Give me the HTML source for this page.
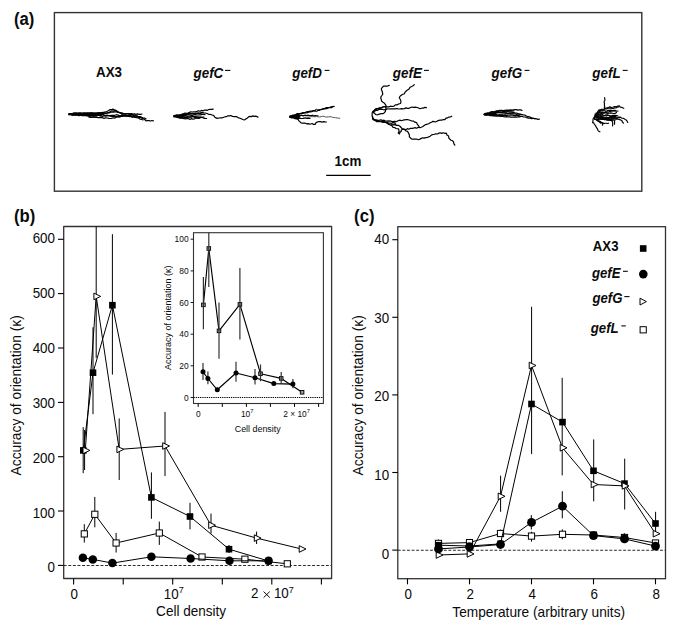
<!DOCTYPE html><html><head><meta charset="utf-8"><style>html,body{margin:0;padding:0;background:#fff;width:685px;height:633px;overflow:hidden}svg{display:block}text{font-family:"Liberation Sans",sans-serif;fill:#0a0a0a}</style></head><body>
<svg width="685" height="633" viewBox="0 0 685 633">
<rect width="685" height="633" fill="#fff"/>
<text transform="translate(13.90,24.80) scale(1,1.06)" font-size="16.7" text-anchor="start" font-weight="bold" font-style="normal" >(a)</text>
<rect x="54.4" y="12.6" width="587.4" height="178.6" fill="none" stroke="#333" stroke-width="1.4"/>
<text transform="translate(96.00,77.20) scale(1,1.06)" font-size="13.4" text-anchor="start" font-weight="bold" font-style="normal" >AX3</text>
<text transform="translate(193.50,77.60) scale(1,1.06)" font-size="13.4" text-anchor="start" font-weight="bold" font-style="italic" >gefC</text>
<rect x="225.00" y="69.85" width="5.40" height="1.1" fill="#0a0a0a"/>
<text transform="translate(292.20,77.60) scale(1,1.06)" font-size="13.4" text-anchor="start" font-weight="bold" font-style="italic" >gefD</text>
<rect x="324.60" y="69.85" width="4.90" height="1.1" fill="#0a0a0a"/>
<text transform="translate(392.80,77.60) scale(1,1.06)" font-size="13.4" text-anchor="start" font-weight="bold" font-style="italic" >gefE</text>
<rect x="424.00" y="69.85" width="4.90" height="1.1" fill="#0a0a0a"/>
<text transform="translate(491.60,77.60) scale(1,1.06)" font-size="13.4" text-anchor="start" font-weight="bold" font-style="italic" >gefG</text>
<rect x="524.60" y="69.85" width="4.90" height="1.1" fill="#0a0a0a"/>
<text transform="translate(592.30,77.60) scale(1,1.06)" font-size="13.4" text-anchor="start" font-weight="bold" font-style="italic" >gefL</text>
<rect x="622.70" y="69.85" width="4.90" height="1.1" fill="#0a0a0a"/>
<text transform="translate(334.60,166.10) scale(1,1.06)" font-size="13.4" text-anchor="start" font-weight="bold" font-style="normal" >1cm</text>
<line x1="326.2" y1="175.3" x2="370.7" y2="175.3" stroke="#000" stroke-width="1.3" />
<polygon points="68.4,113.9 74,112.4 100,112.3 107,113.0 101,116.0 88,116.0 74,115.6" fill="#000"/>
<polyline points="69.0,114.0 70.4,113.9 71.8,114.0 73.2,114.3 74.6,113.9 76.0,113.9 77.5,113.9 78.9,113.5 80.3,113.8 81.7,113.9 83.1,114.0 84.5,113.3 85.9,113.5 87.3,113.3 88.7,113.9 90.1,113.8 91.5,113.2 93.0,114.0 94.4,113.9 95.8,113.6 97.2,113.6 98.6,113.1 99.9,113.0 101.4,113.1 102.7,112.4 104.1,112.2 105.5,111.9 106.7,111.5 108.5,110.7 110.0,109.5 111.6,109.7 113.0,109.1 114.4,109.9 116.0,110.4 117.3,111.4 118.7,112.1 120.0,112.8 121.3,113.6 122.7,113.8 124.2,113.9 125.6,114.0 127.0,113.8 128.5,113.8 130.0,113.8 131.5,113.6 133.0,114.2 134.5,113.9 136.0,114.3 137.5,113.9 139.0,114.4 140.5,114.3 142.0,114.0" fill="none" stroke="#000" stroke-width="1.2" stroke-linejoin="round" stroke-linecap="round" />
<polyline points="69.0,114.5 70.4,114.0 71.8,114.2 73.2,114.8 74.6,114.4 76.1,114.8 77.5,114.3 78.9,114.0 80.3,114.4 81.7,114.5 83.1,114.1 84.5,113.9 85.9,114.1 87.3,114.6 88.7,114.4 90.1,113.8 91.5,113.9 92.9,113.8 94.4,113.7 95.8,114.3 97.2,113.8 98.6,114.1 100.0,114.0 101.6,113.5 103.2,113.8 104.8,113.1 106.4,113.3 107.8,112.7 109.3,112.3 110.6,111.4 112.0,110.8 113.6,111.1 114.9,110.6 116.6,111.0 117.8,112.3 119.6,112.5 121.0,113.4 122.4,114.5 124.0,115.1 125.6,114.8 127.1,115.7 128.7,115.2 130.3,115.4 131.8,116.0 133.4,115.7 135.1,115.8 136.5,116.0 137.9,116.4 139.2,117.3 140.7,117.4 142.0,118.1 143.4,118.7 144.7,119.6 146.0,120.9 147.5,120.5 149.0,120.7 150.4,121.0 151.9,120.5 153.4,120.8" fill="none" stroke="#000" stroke-width="1.2" stroke-linejoin="round" stroke-linecap="round" />
<polyline points="69.0,114.8 70.5,114.5 71.9,115.3 73.4,115.2 74.8,114.8 76.3,114.8 77.7,115.3 79.2,115.6 80.6,115.0 82.1,115.7 83.5,115.7 85.0,115.5 86.7,115.9 88.4,116.1 90.0,116.6 91.6,117.5 93.2,116.9 94.8,117.4 96.4,117.0 98.0,117.6 99.5,117.6 101.0,117.6 102.5,117.7 104.0,118.4 105.6,117.8 107.2,118.0 108.8,118.3 110.4,118.5 112.0,118.3 113.4,117.8 114.9,118.1 116.2,117.2 117.5,116.8 119.0,116.8 120.5,116.7 121.9,116.1 123.5,116.0 125.0,115.9 126.5,116.2 128.0,115.9 129.5,116.2 131.0,116.8 132.5,116.9 134.0,116.7 135.5,116.9 137.0,116.9 138.5,116.6 140.0,117.0" fill="none" stroke="#000" stroke-width="1.2" stroke-linejoin="round" stroke-linecap="round" />
<polyline points="69.0,114.0 70.5,113.6 71.9,113.7 73.3,114.5 74.8,114.4 76.2,114.7 77.7,113.9 79.1,114.5 80.6,114.4 82.0,114.7 83.5,114.4 84.9,115.1 86.3,114.3 87.8,114.8 89.2,115.0 90.7,115.2 92.1,115.1 93.5,115.1 95.0,115.3 96.6,115.6 98.2,115.3 99.8,115.8 101.4,116.2 103.0,116.3 104.4,115.8 105.8,116.1 107.2,116.0 108.6,115.7 110.0,115.6 111.6,115.3 113.2,115.4 114.8,115.3 116.4,114.7 118.0,115.1 119.4,115.6 120.8,115.6 122.3,115.6 123.7,115.5 125.1,115.9 126.6,115.9 128.0,115.9 129.4,116.6 130.9,116.2 132.2,117.1 133.8,116.7 135.1,117.5 136.6,117.7 138.1,117.8 139.6,118.8 141.3,119.3 143.0,120.0" fill="none" stroke="#000" stroke-width="1.2" stroke-linejoin="round" stroke-linecap="round" />
<polyline points="69.0,113.5 70.4,113.6 71.9,113.8 73.3,113.2 74.8,113.0 76.2,113.2 77.6,113.5 79.1,113.1 80.5,113.0 82.0,113.7 83.4,113.4 84.8,113.2 86.3,113.6 87.7,113.1 89.2,113.4 90.6,112.9 92.0,113.1 93.5,113.4 94.9,113.5 96.4,113.5 97.8,113.0 99.2,113.2 100.7,112.9 102.1,112.7 103.6,113.0 105.0,113.3 106.5,113.2 107.9,112.9 109.3,113.0 110.7,112.2 112.1,112.0 113.6,112.1 115.0,111.8 116.4,111.9 117.8,112.3 119.2,112.7 120.6,112.8 122.0,112.8 123.4,113.5 124.8,113.9 126.3,113.6 127.8,113.5 129.2,113.7 130.5,114.6 132.1,114.1 133.5,115.2 135.2,115.6 136.9,115.8 138.3,116.8 140.1,116.6 141.6,117.2 143.0,118.0 144.6,118.1 146.0,119.0" fill="none" stroke="#000" stroke-width="1.2" stroke-linejoin="round" stroke-linecap="round" />
<polyline points="89.0,117.1 90.6,117.4 92.2,116.9 93.8,116.9 95.4,116.9 97.0,117.3" fill="none" stroke="#000" stroke-width="1.2" stroke-linejoin="round" stroke-linecap="round" />
<polyline points="69.0,114.2 70.4,114.3 71.8,114.2 73.2,114.3 74.6,114.4 76.0,114.5 77.5,114.7 78.9,114.4 80.3,114.0 81.7,114.3 83.1,114.0 84.5,113.9 85.9,114.3 87.3,114.5 88.7,114.0 90.1,114.1 91.5,114.2 93.0,114.5 94.4,114.4 95.8,114.5 97.2,114.6 98.6,114.3 100.0,114.7 101.5,115.0 103.0,114.4 104.4,115.4 106.0,115.4 107.6,115.2 109.0,115.8 110.5,116.2 112.0,116.8 113.4,116.3 114.9,116.5 116.3,116.7 117.7,116.7 119.1,116.8 120.6,116.4 122.0,116.5 123.6,115.9 125.2,116.0 126.8,115.8 128.4,115.4 130.0,115.0" fill="none" stroke="#000" stroke-width="1.2" stroke-linejoin="round" stroke-linecap="round" />
<polygon points="174,115.8 179,114.8 186,114.8 183,117.2 176,117" fill="#000"/>
<polyline points="174.0,116.0 175.4,115.8 176.7,115.0 178.2,115.3 179.6,115.0 181.0,114.7 182.3,113.9 183.7,113.8 185.0,113.0 186.6,113.3 188.0,113.1 189.5,112.4 190.9,111.9 192.5,112.0 194.0,111.9 195.5,111.9 197.0,111.4 198.4,110.8 200.0,111.3 201.4,110.4 203.0,110.9 204.4,110.1 205.8,110.1 207.4,110.3 208.8,109.5 210.2,109.3 211.7,109.4 213.2,109.2" fill="none" stroke="#000" stroke-width="1.2" stroke-linejoin="round" stroke-linecap="round" />
<polyline points="174.0,116.3 175.5,116.3 177.0,116.1 178.4,115.7 179.9,115.7 181.3,115.1 182.8,115.2 184.1,114.2 185.6,114.1 187.1,114.1 188.5,113.7 190.0,113.8 191.4,113.6 192.8,113.4 194.2,113.6 195.6,113.3 197.0,113.0 198.4,112.9 199.8,113.3 201.2,113.2 202.6,112.5 204.0,113.0 205.2,113.0 207.2,113.5 209.0,114.5 210.6,114.4 212.1,115.0 213.6,115.3 214.4,116.7 215.4,117.6 217.2,118.4 219.0,118.0 220.8,117.9 222.4,117.8 223.8,117.2 225.3,116.7 226.7,116.6 228.0,115.8 229.4,115.9 230.8,115.5 232.5,116.4 234.3,116.7 236.3,116.5 238.0,117.6 239.9,118.2 241.3,118.8 242.7,119.5 244.4,119.9 245.7,119.0 247.0,118.4 248.3,117.1 249.8,116.3 251.3,116.6 252.8,115.9 254.2,116.4 256.2,116.2 257.9,117.1" fill="none" stroke="#000" stroke-width="1.2" stroke-linejoin="round" stroke-linecap="round" />
<polyline points="174.0,117.0 175.6,116.8 177.2,117.0 178.7,117.5 180.3,117.3 181.9,117.4 183.4,117.8 185.0,117.4 186.5,117.8 187.8,117.1 189.3,117.2 190.7,116.8 192.1,116.5 193.6,116.6 195.0,116.3 196.5,116.6 197.9,116.8 199.3,117.2 200.9,117.1 202.3,117.5 203.7,118.1 205.1,118.4 206.6,118.5" fill="none" stroke="#000" stroke-width="1.2" stroke-linejoin="round" stroke-linecap="round" />
<polyline points="174.0,116.0 175.5,116.5 176.9,117.3 178.5,117.6 180.0,118.3 181.5,117.9 182.8,118.5 184.3,118.7 185.7,118.9 187.2,118.5 188.6,118.7 190.0,119.4 191.4,118.6 192.9,119.2 194.3,119.0 195.7,118.2 197.1,118.2 198.6,118.5 200.0,118.2" fill="none" stroke="#000" stroke-width="1.2" stroke-linejoin="round" stroke-linecap="round" />
<polyline points="174.0,115.6 175.4,115.3 176.9,115.1 178.4,115.7 179.8,115.3 181.3,115.6 182.7,114.9 184.2,115.1 185.6,115.3 187.1,114.7 188.5,114.8 190.0,115.2 191.5,115.3 193.0,115.3 194.5,114.5 196.0,114.8 197.5,115.0 199.0,114.8 200.5,114.9 202.0,114.4 203.5,114.3 205.0,114.6" fill="none" stroke="#000" stroke-width="1.2" stroke-linejoin="round" stroke-linecap="round" />
<polyline points="175.0,116.4 176.4,116.0 177.9,116.0 179.3,116.4 180.8,116.4 182.2,116.5 183.7,116.1 185.1,116.1 186.6,116.1 188.0,116.7 189.4,117.0 190.8,117.1 192.3,116.6 193.8,116.7 195.1,117.7 196.6,117.4 198.0,117.8 199.5,117.3 201.0,117.3 202.5,117.2 204.0,117.0" fill="none" stroke="#000" stroke-width="1.2" stroke-linejoin="round" stroke-linecap="round" />
<polyline points="174.0,116.0 175.5,115.8 177.0,115.7 178.4,115.0 180.0,115.5 181.5,115.4 183.0,114.7 184.5,114.7 186.0,114.8 187.4,114.4 188.8,114.0 190.3,113.9 191.7,114.0 193.1,113.5 194.6,114.1 196.0,113.9 197.4,113.6 198.8,113.5 200.2,113.1 201.6,112.7 203.0,112.6" fill="none" stroke="#000" stroke-width="1.2" stroke-linejoin="round" stroke-linecap="round" />
<polygon points="289.3,116.2 294,115.2 301,115.0 299,118.4 293,117.8" fill="#000"/>
<polyline points="289.7,116.3 291.2,116.0 292.6,115.6 294.2,115.7 295.7,115.1 297.0,114.3 298.6,114.5 300.0,114.0 301.5,113.7 302.9,113.4 304.3,112.8 305.8,112.9 307.2,112.6 308.6,112.1 310.0,111.8 311.8,111.6 313.5,111.0 315.2,110.8" fill="none" stroke="#000" stroke-width="1.2" stroke-linejoin="round" stroke-linecap="round" />
<polyline points="290.0,116.1 291.5,115.9 292.8,115.0 294.2,114.8 295.7,114.5 297.0,113.7 298.5,113.7 300.0,113.5 301.5,113.2 302.9,112.5 304.6,112.7 306.0,112.1 307.5,111.5 309.0,111.4 310.5,111.2 312.0,111.0 313.5,110.7 315.0,110.6" fill="none" stroke="#000" stroke-width="1.2" stroke-linejoin="round" stroke-linecap="round" />
<polyline points="317.5,110.4 319.1,110.4 320.5,109.7 322.0,109.3 323.6,108.9 325.1,108.7 326.4,107.5 328.1,107.7 329.6,107.5 331.1,106.8 332.6,106.5 334.2,106.3" fill="none" stroke="#000" stroke-width="1.2" stroke-linejoin="round" stroke-linecap="round" />
<polyline points="317.2,110.6 318.7,109.8 320.3,109.5 321.9,109.3 323.4,108.6 325.0,108.4 326.7,108.6 328.2,107.9 329.8,107.5 331.5,107.6 333.0,106.8" fill="none" stroke="#000" stroke-width="1.2" stroke-linejoin="round" stroke-linecap="round" />
<polyline points="289.7,116.5 291.2,116.4 292.7,116.7 294.1,116.2 295.6,116.3 297.0,115.5 298.5,115.8 300.0,115.8 301.6,115.2 303.2,115.9 304.8,115.2 306.4,115.5 308.0,115.2 309.4,115.5 310.9,115.7 312.3,115.2 313.7,116.1 315.1,115.6 316.6,115.8 318.0,115.8" fill="none" stroke="#000" stroke-width="1.2" stroke-linejoin="round" stroke-linecap="round" />
<polyline points="289.7,116.9 291.0,117.4 292.5,117.6 293.9,118.0 295.1,118.7 296.5,119.0 298.1,119.3 298.8,120.8 300.1,121.9 301.0,122.9 302.4,123.1 303.8,123.0 305.2,123.2 306.6,123.8 308.0,123.6 309.4,124.1 310.8,124.0 312.2,123.5 313.6,124.4 315.3,124.3 316.1,122.5 317.8,121.9 319.3,121.5 320.7,121.6 322.1,122.2 323.6,121.6 325.0,121.9 326.5,122.0" fill="none" stroke="#000" stroke-width="1.2" stroke-linejoin="round" stroke-linecap="round" />
<polyline points="289.7,117.2 291.1,117.8 292.6,117.7 294.1,117.7 295.5,118.3 297.0,118.3 298.5,118.3 300.0,118.1 301.4,118.5 302.9,118.4 304.3,118.1 305.7,118.0 307.1,118.4 308.6,118.1 310.0,118.4" fill="none" stroke="#000" stroke-width="1.2" stroke-linejoin="round" stroke-linecap="round" />
<polyline points="305.0,117.2 306.4,117.1 307.9,117.2 309.3,116.9 310.8,116.6 312.2,116.8 313.7,116.6 315.1,116.8 316.6,116.5 318.0,116.8 319.5,116.9 321.0,116.7 322.5,116.3 324.0,116.3 325.5,117.0 327.0,117.0 328.5,116.9 330.0,116.7 331.4,116.8 332.8,117.4 334.2,117.5 335.6,117.7 337.0,117.9 338.4,118.2 339.8,118.2" fill="none" stroke="#555" stroke-width="1.0" stroke-linejoin="round" stroke-linecap="round" />
<circle cx="316.3" cy="110.4" r="1.2" fill="none" stroke="#000" stroke-width="0.9"/>
<polyline points="389.3,85.3 388.0,85.9 386.6,86.1 383.5,86.1 381.5,88.4 381.4,89.9 382.2,91.3 382.8,94.2 381.9,95.5 381.0,96.7 380.8,98.2 381.3,99.5 381.6,101.1 382.6,102.0 384.2,103.0 385.3,104.4 386.1,105.8 385.9,107.3 385.9,108.9 385.5,111.1 384.6,112.5 383.2,113.6 381.2,113.7 379.4,114.1 377.5,114.8 375.4,114.5 374.6,113.1 373.4,112.6 373.9,111.0 375.5,109.3 377.5,108.8 379.3,107.8 381.4,107.9 383.2,107.0" fill="none" stroke="#000" stroke-width="1.2" stroke-linejoin="round" stroke-linecap="round" />
<polyline points="414.3,84.6 413.1,85.7 411.7,86.5 410.2,87.2 409.1,88.9 407.5,89.9 406.3,91.0 405.1,92.1 404.4,93.8 402.3,94.5 400.3,96.0 399.3,97.4 399.9,98.8 400.7,100.3 400.9,102.0 400.6,103.5 398.7,103.9 397.0,104.9 395.3,104.9 394.0,106.1 392.3,106.5 390.5,106.2 388.8,106.9 387.0,106.8 385.1,106.6 383.1,106.8 381.4,107.8 379.5,108.5 378.0,108.6 376.4,108.6 375.1,109.3 374.1,110.8 372.4,111.9 372.1,114.2 372.2,116.5 373.0,119.1 374.6,119.8" fill="none" stroke="#000" stroke-width="1.2" stroke-linejoin="round" stroke-linecap="round" />
<polyline points="373.1,111.2 374.7,111.2 376.0,110.3 377.6,110.3 379.0,109.4 380.6,109.3 382.2,109.3 383.8,109.8 385.4,109.7 387.0,108.9 388.7,109.0 390.3,108.9 392.0,108.9 393.6,108.8 395.3,108.8 396.8,108.5 398.3,108.8 399.9,109.0 401.4,108.7 402.9,108.9 404.4,108.6 405.9,107.9 407.5,108.4 409.1,108.3 410.5,107.5 412.0,107.0 413.6,107.3 416.0,107.2 418.0,107.8 420.0,108.7 421.6,108.2 423.2,108.2 424.8,107.3 426.4,107.6" fill="none" stroke="#000" stroke-width="1.2" stroke-linejoin="round" stroke-linecap="round" />
<polyline points="372.6,116.4 372.6,118.4 373.5,119.7 374.7,120.1 376.3,119.9 377.9,120.4 379.3,120.3 381.0,119.7 382.4,120.5 384.0,120.2 385.4,121.0 387.0,121.2 388.9,120.9 390.8,121.1 392.6,121.7 394.3,121.4 396.2,121.7 398.0,120.7 399.9,120.1 401.4,120.7 402.9,120.2 404.4,119.9 406.3,119.7 408.1,119.7 410.0,120.3 411.8,121.0 413.6,121.1 414.9,122.2 416.5,122.6 417.2,124.1 418.2,125.3 419.8,127.8 421.3,127.2 422.9,126.5 424.2,125.5 425.7,124.6 427.2,124.2 428.7,123.7 430.0,122.8 431.5,122.2 432.9,121.3 434.5,121.7 436.0,121.8 437.4,120.9 438.8,120.4 440.3,120.2 441.8,120.2 443.2,119.5 444.9,119.7 446.0,118.2 447.5,117.9 448.8,117.1 450.4,117.0 451.7,116.2" fill="none" stroke="#000" stroke-width="1.2" stroke-linejoin="round" stroke-linecap="round" />
<polyline points="372.6,117.4 373.2,119.7 374.9,119.9 376.0,120.5 377.4,121.1 378.8,121.3 380.2,121.7 381.9,120.9 383.2,121.5 384.5,122.0 385.8,122.5 387.1,123.0 388.2,124.1 389.5,124.7 391.0,125.0 392.2,126.1 393.1,127.3 394.6,127.5 396.0,128.5 398.6,128.9 399.1,131.3 398.2,133.0 399.5,133.9 399.8,132.5 401.0,131.5 401.5,129.8 403.8,128.9 404.9,129.8 406.0,131.0 407.5,131.3 408.5,133.1 409.4,134.8 409.3,136.6 410.2,137.8 411.3,138.8 412.8,139.1 414.3,139.2 416.4,139.0 418.5,139.7 419.9,139.1 421.3,138.4 422.7,137.8 424.2,138.1 425.6,137.7 427.3,137.5 428.7,136.9 430.1,136.2 431.4,135.1 432.9,134.5 434.4,134.3 435.8,133.8 437.5,134.0 438.8,133.2 440.3,132.8 441.7,133.4 443.2,132.8 444.6,133.3 446.4,133.2 446.9,135.0 448.6,136.0 448.8,138.0 449.9,139.2 451.0,140.2 452.7,140.8 453.6,142.1 453.9,143.8 454.9,145.1" fill="none" stroke="#000" stroke-width="1.2" stroke-linejoin="round" stroke-linecap="round" />
<polyline points="390.8,125.2 392.1,124.6 393.6,124.8 395.0,124.6 396.6,125.4 398.4,125.3 400.2,126.5 401.5,128.0 402.8,129.1 404.4,129.3 406.0,129.7 407.4,128.6 409.0,129.2 410.5,128.3 412.0,128.4 413.6,128.2 415.0,127.6 416.6,128.2 418.1,127.4 419.6,127.5" fill="none" stroke="#000" stroke-width="1.2" stroke-linejoin="round" stroke-linecap="round" />
<polyline points="381.0,121.6 382.5,121.7 384.1,121.8 385.5,122.4 387.0,122.9 388.5,123.5 390.0,123.0 391.6,123.3 393.0,122.6 394.7,122.8 395.7,124.4" fill="none" stroke="#000" stroke-width="1.2" stroke-linejoin="round" stroke-linecap="round" />
<polyline points="373.0,118.6 374.4,119.4 375.4,120.8 376.9,121.6 378.5,121.6 380.1,121.2 381.5,121.8 383.0,122.4 384.7,122.0 386.3,122.4 388.0,122.4" fill="none" stroke="#000" stroke-width="1.2" stroke-linejoin="round" stroke-linecap="round" />
<polygon points="484,114.3 490,113.0 497,112.8 494,115.6 489,115.3" fill="#000"/>
<polyline points="484.2,114.2 485.8,113.8 487.2,113.1 489.0,113.3 490.5,112.8 492.0,112.0 493.6,112.0 495.2,111.6 496.8,111.4 498.4,111.3 500.0,110.9 501.6,110.7 503.2,110.6 504.8,110.6 506.4,110.2 508.0,110.0 509.4,110.2 510.8,109.9 512.2,110.1 513.6,109.8 515.0,109.7 516.4,109.6 517.8,110.1 519.2,109.8 520.6,109.9 522.0,110.3" fill="none" stroke="#000" stroke-width="1.2" stroke-linejoin="round" stroke-linecap="round" />
<polyline points="484.2,114.0 485.7,113.3 487.3,113.2 488.9,112.8 490.4,112.1 492.0,111.7 493.6,111.8 495.2,111.4 496.8,110.8 498.4,110.7 500.0,110.4 501.6,110.4 503.2,110.5 504.8,110.3 506.4,110.9 508.0,110.6 509.5,110.7 511.0,110.8 512.5,110.9 514.0,110.8" fill="none" stroke="#000" stroke-width="1.2" stroke-linejoin="round" stroke-linecap="round" />
<polyline points="484.2,114.4 485.8,114.4 487.3,113.9 488.8,113.6 490.4,113.4 491.9,113.0 493.4,113.0 495.0,112.9 496.5,112.9 497.9,112.6 499.3,112.4 500.7,112.2 502.1,111.7 503.6,111.7 505.0,111.5 506.4,111.8 507.8,111.5 509.2,111.8 510.6,111.9 512.0,112.2 513.4,112.6 515.0,112.9 516.6,113.0 518.0,113.8 519.3,114.2 520.8,114.3 522.2,114.6 523.6,115.0 525.1,115.2 526.5,116.0 527.9,116.7 529.5,116.9 531.0,117.5 532.3,118.1 533.7,118.3 535.0,119.0" fill="none" stroke="#000" stroke-width="1.2" stroke-linejoin="round" stroke-linecap="round" />
<polyline points="484.2,114.6 485.7,114.9 487.3,114.7 488.8,114.4 490.4,114.3 491.9,114.4 493.5,114.6 495.0,114.7 496.4,114.6 497.8,115.0 499.3,114.7 500.7,114.8 502.2,114.7 503.6,115.2 505.0,114.8 506.4,115.3 507.9,115.1 509.3,115.1 510.7,115.2 512.1,115.0 513.6,115.4 515.0,115.5 516.4,115.6 517.8,115.7 519.2,115.7 520.6,116.4 522.0,116.3 523.5,117.0 525.2,117.0 526.8,117.6 528.4,118.2 530.0,118.2 531.6,118.6 533.2,118.4 534.7,118.5 536.3,118.7 537.8,119.4 539.4,119.2" fill="none" stroke="#000" stroke-width="1.2" stroke-linejoin="round" stroke-linecap="round" />
<polyline points="484.2,114.8 485.7,115.2 487.3,115.1 488.8,115.0 490.4,115.4 491.9,115.5 493.5,115.4 495.0,115.7 496.4,116.0 497.9,115.7 499.3,115.9 500.7,116.3 502.2,116.2 503.6,116.6 505.0,116.8 506.4,116.7 507.9,116.9 509.3,116.8 510.7,117.1 512.1,117.0 513.6,117.2 515.0,116.9 516.7,117.2 518.3,116.7 520.0,116.8" fill="none" stroke="#000" stroke-width="1.2" stroke-linejoin="round" stroke-linecap="round" />
<polyline points="486.0,114.0 487.5,114.0 488.9,113.6 490.3,113.3 491.7,113.0 493.2,112.9 494.6,112.7 496.0,112.6 497.6,112.6 499.2,112.6 500.8,112.9 502.4,112.9 504.0,113.0 505.6,112.9 507.2,113.2 508.8,113.4 510.4,113.8 512.0,113.8 513.6,113.9 515.2,113.9 516.8,114.3 518.4,114.0 520.0,114.2" fill="none" stroke="#000" stroke-width="1.2" stroke-linejoin="round" stroke-linecap="round" />
<polyline points="490.0,115.6 491.4,115.4 492.9,115.8 494.3,115.9 495.7,115.9 497.1,115.8 498.6,115.9 500.0,115.7 501.4,115.8 502.8,115.4 504.2,115.3 505.6,115.4 507.0,115.4" fill="none" stroke="#000" stroke-width="1.2" stroke-linejoin="round" stroke-linecap="round" />
<polyline points="500.0,112.2 501.6,112.5 503.2,112.7 504.8,112.8 506.4,113.4 508.0,113.6 509.5,113.2 511.0,113.1 512.5,112.9 514.0,112.8" fill="none" stroke="#000" stroke-width="1.2" stroke-linejoin="round" stroke-linecap="round" />
<polyline points="604.6,97.6 604.8,98.8 605.0,100.0 604.2,101.3 604.2,102.5 604.5,103.7 604.3,104.9 604.7,106.2 604.3,107.4 604.6,108.6" fill="none" stroke="#000" stroke-width="1.15" stroke-linejoin="round" stroke-linecap="round" />
<polyline points="596.0,116.0 596.3,114.6 597.2,113.4 597.6,112.0 598.1,110.9 599.1,109.9 600.5,110.1 601.5,109.2 602.8,109.2 604.1,109.2 605.1,108.1 606.3,108.0 607.5,107.7 608.7,107.4 609.9,106.9 611.3,107.5 612.6,107.3 613.9,106.8 615.2,106.6 616.6,106.7 617.8,106.0 619.4,105.9 620.3,107.3 621.9,107.4 623.8,108.3" fill="none" stroke="#000" stroke-width="1.15" stroke-linejoin="round" stroke-linecap="round" />
<polyline points="596.0,115.0 596.8,114.1 597.9,113.4 598.7,112.5 599.2,111.3 599.9,110.1 601.3,109.9 602.7,110.1 604.0,109.7 605.2,108.7 606.7,108.9 607.9,108.2 609.2,108.2 610.6,107.9 611.9,108.4 613.3,108.5 614.6,107.7 615.9,108.0 617.4,107.1 619.0,106.8" fill="none" stroke="#000" stroke-width="1.15" stroke-linejoin="round" stroke-linecap="round" />
<polyline points="595.0,116.0 596.2,115.5 596.7,114.1 597.8,113.3 599.1,113.0 600.0,111.8 601.3,112.5 602.6,112.7 603.9,112.7 605.3,112.4 606.5,113.0 607.8,113.4 609.2,113.2 610.4,112.9 611.6,113.1 612.8,113.3 614.0,113.7 615.0,113.4 616.5,112.4" fill="none" stroke="#000" stroke-width="1.15" stroke-linejoin="round" stroke-linecap="round" />
<polyline points="595.0,116.5 596.3,116.4 597.6,116.6 598.8,117.1 600.1,117.4 601.4,117.2 602.7,117.6 604.0,117.9 605.3,117.7 606.6,117.4 607.9,117.5 609.2,118.2 610.6,118.0 611.9,117.7 613.2,118.0 614.4,117.5 615.7,118.2 616.8,117.7 618.1,117.7 619.3,117.7 620.6,117.2 621.6,118.1 622.9,118.2 624.1,118.6 625.0,119.4 626.4,120.1 627.1,121.3 627.8,122.5" fill="none" stroke="#000" stroke-width="1.15" stroke-linejoin="round" stroke-linecap="round" />
<polyline points="596.0,117.0 597.2,117.4 598.4,117.1 599.6,117.3 600.8,117.7 602.0,117.5 603.2,118.3 604.3,118.6 605.7,117.9 606.8,118.4 608.0,118.8 609.2,118.6 610.5,119.1 611.7,118.8 613.0,118.6 614.2,119.0 615.5,119.1 616.7,118.9 617.9,119.3 619.1,119.4 620.5,119.9 621.8,120.5 622.4,122.0 623.5,123.2" fill="none" stroke="#000" stroke-width="1.15" stroke-linejoin="round" stroke-linecap="round" />
<polyline points="598.0,118.4 599.3,118.8 600.7,118.9 601.9,119.5 603.4,119.0 604.6,119.8 606.0,119.5 607.3,120.0 608.7,119.8 610.0,120.2 611.3,120.6 612.3,120.5 612.3,121.8 612.8,123.2 612.6,124.6 612.6,125.9" fill="none" stroke="#000" stroke-width="1.15" stroke-linejoin="round" stroke-linecap="round" />
<polyline points="600.0,119.0 601.4,118.9 602.7,119.4 604.0,119.5 605.4,119.3 606.7,119.9 608.0,120.2 609.3,120.1 610.6,120.5 611.9,120.0 613.2,120.0 614.9,120.4 614.5,121.7 614.6,122.9 614.5,124.2" fill="none" stroke="#000" stroke-width="1.15" stroke-linejoin="round" stroke-linecap="round" />
<polyline points="598.0,121.0 599.2,121.5 600.4,121.9 601.3,122.9 602.6,122.8 603.8,123.6 605.0,123.3 606.2,123.2 607.4,123.5 608.6,123.2" fill="none" stroke="#000" stroke-width="1.15" stroke-linejoin="round" stroke-linecap="round" />
<polyline points="598.0,120.6 599.3,121.0 600.5,121.6 601.5,122.4 603.0,123.3 602.3,125.2" fill="none" stroke="#000" stroke-width="1.15" stroke-linejoin="round" stroke-linecap="round" />
<polyline points="595.5,115.5 594.7,116.7 593.7,117.8 593.0,119.2 593.0,120.9 592.6,122.6 593.8,122.9 594.3,124.0 595.6,125.8 596.5,127.7 597.4,128.8 597.9,130.3 598.4,131.0 599.9,131.8" fill="none" stroke="#000" stroke-width="1.15" stroke-linejoin="round" stroke-linecap="round" />
<polyline points="594.8,117.0 594.5,119.4 595.9,119.5 596.9,120.5 598.1,121.1 599.5,122.0 600.6,123.2" fill="none" stroke="#000" stroke-width="1.15" stroke-linejoin="round" stroke-linecap="round" />
<polyline points="595.0,114.0 596.4,114.1 597.4,112.9 598.7,112.9 600.0,112.8 601.2,113.0 602.4,112.1 603.6,112.3 604.8,112.5 605.9,111.8 607.2,111.8 608.6,112.1 609.7,111.3 611.0,111.3 612.2,111.0 613.5,110.9 614.7,110.4 616.0,110.6" fill="none" stroke="#000" stroke-width="1.15" stroke-linejoin="round" stroke-linecap="round" />
<polyline points="594.8,115.2 596.0,114.5 597.5,115.0 598.8,114.5 600.0,114.2 601.3,113.5 602.6,113.2 604.0,113.2 605.5,112.7 607.0,112.6" fill="none" stroke="#000" stroke-width="1.15" stroke-linejoin="round" stroke-linecap="round" />
<polyline points="595.0,117.0 596.3,116.8 597.7,117.0 599.0,116.3 600.2,116.2 601.5,116.6 602.8,116.2 604.0,115.6 605.2,115.8 606.5,115.9 607.7,115.3 609.0,115.5 610.3,115.7 611.5,115.7 612.8,115.4 613.9,115.5 615.3,115.4 616.7,115.6 618.0,116.0" fill="none" stroke="#000" stroke-width="1.15" stroke-linejoin="round" stroke-linecap="round" />
<polyline points="595.0,118.0 596.3,118.2 597.5,117.7 598.8,118.0 600.0,117.3 601.2,117.6 602.4,117.6 603.6,118.0 604.8,117.8 606.0,117.9 607.2,117.7 608.4,117.8 609.6,117.4 610.8,117.4 611.9,117.6 613.2,117.7 614.4,118.1 615.8,117.8 617.0,118.3 618.3,117.4 620.0,117.0" fill="none" stroke="#000" stroke-width="1.15" stroke-linejoin="round" stroke-linecap="round" />
<polyline points="596.0,113.0 597.3,112.7 598.5,112.0 599.7,111.5 600.9,110.8 602.2,110.8 603.5,110.7 604.7,110.7 606.0,111.0 607.2,110.8 608.4,110.3 609.6,110.4 610.8,110.1 612.0,110.8 613.2,110.4 614.4,110.9 615.6,111.0 616.8,111.2 618.0,111.0" fill="none" stroke="#000" stroke-width="1.15" stroke-linejoin="round" stroke-linecap="round" />
<polyline points="595.0,116.0 596.2,115.3 597.5,115.3 598.7,115.1 599.9,114.6 601.6,114.9 603.0,114.2" fill="none" stroke="#000" stroke-width="1.15" stroke-linejoin="round" stroke-linecap="round" />
<polyline points="596.0,119.4 597.2,119.2 598.4,119.5 599.6,119.2 600.8,118.7 602.0,118.9 603.2,118.8 604.4,118.7 605.6,118.9 606.8,119.4 608.0,119.0 609.3,119.3 610.5,119.5 611.7,119.7 613.0,119.8" fill="none" stroke="#000" stroke-width="1.15" stroke-linejoin="round" stroke-linecap="round" />
<polyline points="598.0,114.6 599.4,114.8 600.6,115.7 602.0,115.8 603.3,115.9 604.5,115.6 605.7,114.9 607.1,114.8 608.4,115.3 609.6,116.2 611.0,116.5 612.2,116.4 613.5,116.8 614.7,116.2 616.0,116.4" fill="none" stroke="#000" stroke-width="1.15" stroke-linejoin="round" stroke-linecap="round" />
<text transform="translate(13.90,221.90) scale(1,1.06)" font-size="16.7" text-anchor="start" font-weight="bold" font-style="normal" >(b)</text>
<rect x="63.7" y="226.5" width="267.9" height="352.0" fill="none" stroke="#333" stroke-width="1.3" stroke-linejoin="round"/>
<line x1="58.0" y1="565.4" x2="63.7" y2="565.4" stroke="#000" stroke-width="1.1" />
<text transform="translate(55.00,572.40) scale(1,1.06)" font-size="13.4" text-anchor="end" font-weight="normal" font-style="normal" >0</text>
<line x1="58.0" y1="511.0" x2="63.7" y2="511.0" stroke="#000" stroke-width="1.1" />
<text transform="translate(55.00,517.57) scale(1,1.06)" font-size="13.4" text-anchor="end" font-weight="normal" font-style="normal" >100</text>
<line x1="58.0" y1="456.7" x2="63.7" y2="456.7" stroke="#000" stroke-width="1.1" />
<text transform="translate(55.00,462.74) scale(1,1.06)" font-size="13.4" text-anchor="end" font-weight="normal" font-style="normal" >200</text>
<line x1="58.0" y1="402.4" x2="63.7" y2="402.4" stroke="#000" stroke-width="1.1" />
<text transform="translate(55.00,407.91) scale(1,1.06)" font-size="13.4" text-anchor="end" font-weight="normal" font-style="normal" >300</text>
<line x1="58.0" y1="348.0" x2="63.7" y2="348.0" stroke="#000" stroke-width="1.1" />
<text transform="translate(55.00,353.08) scale(1,1.06)" font-size="13.4" text-anchor="end" font-weight="normal" font-style="normal" >400</text>
<line x1="58.0" y1="293.6" x2="63.7" y2="293.6" stroke="#000" stroke-width="1.1" />
<text transform="translate(55.00,298.25) scale(1,1.06)" font-size="13.4" text-anchor="end" font-weight="normal" font-style="normal" >500</text>
<line x1="58.0" y1="239.3" x2="63.7" y2="239.3" stroke="#000" stroke-width="1.1" />
<text transform="translate(55.00,243.42) scale(1,1.06)" font-size="13.4" text-anchor="end" font-weight="normal" font-style="normal" >600</text>
<line x1="73.6" y1="578.5" x2="73.6" y2="584.6" stroke="#000" stroke-width="1.1" />
<line x1="123.2" y1="578.5" x2="123.2" y2="584.6" stroke="#000" stroke-width="1.1" />
<line x1="172.7" y1="578.5" x2="172.7" y2="584.6" stroke="#000" stroke-width="1.1" />
<line x1="222.3" y1="578.5" x2="222.3" y2="584.6" stroke="#000" stroke-width="1.1" />
<line x1="271.8" y1="578.5" x2="271.8" y2="584.6" stroke="#000" stroke-width="1.1" />
<line x1="321.4" y1="578.5" x2="321.4" y2="584.6" stroke="#000" stroke-width="1.1" />
<text transform="translate(74.30,598.80) scale(1,1.06)" font-size="13.4" text-anchor="middle" font-weight="normal" font-style="normal" >0</text>
<text transform="translate(163.80,598.50) scale(1,1.06)" font-size="13.4" text-anchor="start" font-weight="normal" font-style="normal" >10<tspan font-size="9" dy="-5.2">7</tspan></text>
<text transform="translate(251.00,598.30) scale(1,1.06)" font-size="13.4" text-anchor="start" font-weight="normal" font-style="normal" >2</text>
<line x1="263.6" y1="591.6" x2="269.8" y2="597.6" stroke="#000" stroke-width="0.95" />
<line x1="263.6" y1="597.6" x2="269.8" y2="591.6" stroke="#000" stroke-width="0.95" />
<text transform="translate(273.90,598.30) scale(1,1.06)" font-size="13.4" text-anchor="start" font-weight="normal" font-style="normal" >10<tspan font-size="9" dy="-5.2">7</tspan></text>
<text transform="translate(191.10,615.90) scale(1,1.06)" font-size="13.55" text-anchor="middle" font-weight="normal" font-style="normal" >Cell density</text>
<text transform="translate(21.1,395.3) rotate(-90)" font-size="13.8" text-anchor="middle">Accuracy of orientation (κ)</text>
<line x1="63.7" y1="565.5" x2="331.6" y2="565.5" stroke="#2a2a2a" stroke-width="1.1" stroke-dasharray="2.9,1.7"/>
<clipPath id="cb"><rect x="63.7" y="226.5" width="267.90000000000003" height="352.0"/></clipPath>
<g clip-path="url(#cb)">
<line x1="83.2" y1="427.2" x2="83.2" y2="473.2" stroke="#000" stroke-width="1.0" />
<line x1="84.6" y1="430.0" x2="84.6" y2="470.0" stroke="#000" stroke-width="1.0" />
<line x1="93.0" y1="327.3" x2="93.0" y2="414.2" stroke="#000" stroke-width="1.0" />
<line x1="112.4" y1="234.2" x2="112.4" y2="374.6" stroke="#000" stroke-width="1.0" />
<line x1="96.2" y1="220.0" x2="96.2" y2="357.9" stroke="#000" stroke-width="1.0" />
<line x1="119.2" y1="418.4" x2="119.2" y2="480.0" stroke="#000" stroke-width="1.0" />
<line x1="165.0" y1="411.9" x2="165.0" y2="476.1" stroke="#000" stroke-width="1.0" />
<line x1="151.4" y1="472.4" x2="151.4" y2="518.8" stroke="#000" stroke-width="1.0" />
<line x1="190.0" y1="502.8" x2="190.0" y2="529.3" stroke="#000" stroke-width="1.0" />
<line x1="211.0" y1="513.6" x2="211.0" y2="533.5" stroke="#000" stroke-width="1.0" />
<line x1="229.0" y1="545.0" x2="229.0" y2="553.0" stroke="#000" stroke-width="1.0" />
<line x1="256.6" y1="531.6" x2="256.6" y2="544.0" stroke="#000" stroke-width="1.0" />
<line x1="84.3" y1="524.2" x2="84.3" y2="542.6" stroke="#000" stroke-width="1.0" />
<line x1="94.8" y1="496.9" x2="94.8" y2="527.3" stroke="#000" stroke-width="1.0" />
<line x1="116.1" y1="532.9" x2="116.1" y2="552.5" stroke="#000" stroke-width="1.0" />
<line x1="159.3" y1="521.6" x2="159.3" y2="544.9" stroke="#000" stroke-width="1.0" />
<polyline points="84.3,533.9 94.8,514.3 116.1,543.0 159.3,533.0 202.0,557.0 244.9,559.2 287.3,563.8" fill="none" stroke="#000" stroke-width="1.0" stroke-linejoin="round" stroke-linecap="round" />
<rect x="81.20" y="530.80" width="6.2" height="6.2" fill="#fff" stroke="#000" stroke-width="1.0"/>
<rect x="91.70" y="511.20" width="6.2" height="6.2" fill="#fff" stroke="#000" stroke-width="1.0"/>
<rect x="113.00" y="539.90" width="6.2" height="6.2" fill="#fff" stroke="#000" stroke-width="1.0"/>
<rect x="156.20" y="529.90" width="6.2" height="6.2" fill="#fff" stroke="#000" stroke-width="1.0"/>
<rect x="198.90" y="553.90" width="6.2" height="6.2" fill="#fff" stroke="#000" stroke-width="1.0"/>
<rect x="241.80" y="556.10" width="6.2" height="6.2" fill="#fff" stroke="#000" stroke-width="1.0"/>
<rect x="284.20" y="560.70" width="6.2" height="6.2" fill="#fff" stroke="#000" stroke-width="1.0"/>
<polyline points="83.3,450.4 93.0,372.7 112.4,305.2 151.4,497.4 190.0,516.5 229.0,549.2 268.6,561.0" fill="none" stroke="#000" stroke-width="1.0" stroke-linejoin="round" stroke-linecap="round" />
<rect x="80.00" y="447.10" width="6.6" height="6.6" fill="#000"/>
<rect x="89.70" y="369.40" width="6.6" height="6.6" fill="#000"/>
<rect x="109.10" y="301.90" width="6.6" height="6.6" fill="#000"/>
<rect x="148.10" y="494.10" width="6.6" height="6.6" fill="#000"/>
<rect x="186.70" y="513.20" width="6.6" height="6.6" fill="#000"/>
<rect x="225.70" y="545.90" width="6.6" height="6.6" fill="#000"/>
<rect x="265.30" y="557.70" width="6.6" height="6.6" fill="#000"/>
<polyline points="85.3,450.4 96.2,296.4 119.2,449.4 165.0,446.0 211.0,525.2 256.6,538.1 301.5,549.0" fill="none" stroke="#000" stroke-width="1.0" stroke-linejoin="round" stroke-linecap="round" />
<polygon points="83.00,447.10 89.80,450.40 83.00,453.70" fill="#fff" stroke="#000" stroke-width="1.0" stroke-linejoin="miter"/>
<polygon points="93.90,293.10 100.70,296.40 93.90,299.70" fill="#fff" stroke="#000" stroke-width="1.0" stroke-linejoin="miter"/>
<polygon points="116.90,446.10 123.70,449.40 116.90,452.70" fill="#fff" stroke="#000" stroke-width="1.0" stroke-linejoin="miter"/>
<polygon points="162.70,442.70 169.50,446.00 162.70,449.30" fill="#fff" stroke="#000" stroke-width="1.0" stroke-linejoin="miter"/>
<polygon points="208.70,521.90 215.50,525.20 208.70,528.50" fill="#fff" stroke="#000" stroke-width="1.0" stroke-linejoin="miter"/>
<polygon points="254.30,534.80 261.10,538.10 254.30,541.40" fill="#fff" stroke="#000" stroke-width="1.0" stroke-linejoin="miter"/>
<polygon points="299.20,545.70 306.00,549.00 299.20,552.30" fill="#fff" stroke="#000" stroke-width="1.0" stroke-linejoin="miter"/>
<polyline points="82.9,557.8 92.8,559.4 112.4,563.1 151.4,556.8 190.6,558.5 229.5,560.8 268.6,560.8" fill="none" stroke="#000" stroke-width="1.0" stroke-linejoin="round" stroke-linecap="round" />
<circle cx="82.90" cy="557.80" r="4.25" fill="#000"/>
<circle cx="92.80" cy="559.40" r="4.25" fill="#000"/>
<circle cx="112.40" cy="563.10" r="4.25" fill="#000"/>
<circle cx="151.40" cy="556.80" r="4.25" fill="#000"/>
<circle cx="190.60" cy="558.50" r="4.25" fill="#000"/>
<circle cx="229.50" cy="560.80" r="4.25" fill="#000"/>
<circle cx="268.60" cy="560.80" r="4.25" fill="#000"/>
</g>
<rect x="193.5" y="232.7" width="129.9" height="170.8" fill="#fff" stroke="#333" stroke-width="1.1"/>
<line x1="190.6" y1="397.5" x2="193.5" y2="397.5" stroke="#000" stroke-width="0.9" />
<text transform="translate(188.60,400.50) scale(1,1.06)" font-size="8.4" text-anchor="end" font-weight="normal" font-style="normal" >0</text>
<line x1="190.6" y1="365.8" x2="193.5" y2="365.8" stroke="#000" stroke-width="0.9" />
<text transform="translate(188.60,368.84) scale(1,1.06)" font-size="8.4" text-anchor="end" font-weight="normal" font-style="normal" >20</text>
<line x1="190.6" y1="334.2" x2="193.5" y2="334.2" stroke="#000" stroke-width="0.9" />
<text transform="translate(188.60,337.18) scale(1,1.06)" font-size="8.4" text-anchor="end" font-weight="normal" font-style="normal" >40</text>
<line x1="190.6" y1="302.5" x2="193.5" y2="302.5" stroke="#000" stroke-width="0.9" />
<text transform="translate(188.60,305.52) scale(1,1.06)" font-size="8.4" text-anchor="end" font-weight="normal" font-style="normal" >60</text>
<line x1="190.6" y1="270.9" x2="193.5" y2="270.9" stroke="#000" stroke-width="0.9" />
<text transform="translate(188.60,273.86) scale(1,1.06)" font-size="8.4" text-anchor="end" font-weight="normal" font-style="normal" >80</text>
<line x1="190.6" y1="239.2" x2="193.5" y2="239.2" stroke="#000" stroke-width="0.9" />
<text transform="translate(188.60,242.20) scale(1,1.06)" font-size="8.4" text-anchor="end" font-weight="normal" font-style="normal" >100</text>
<line x1="198.2" y1="403.5" x2="198.2" y2="406.9" stroke="#000" stroke-width="1.0" />
<line x1="222.3" y1="403.5" x2="222.3" y2="406.9" stroke="#000" stroke-width="1.0" />
<line x1="246.4" y1="403.5" x2="246.4" y2="406.9" stroke="#000" stroke-width="1.0" />
<line x1="270.4" y1="403.5" x2="270.4" y2="406.9" stroke="#000" stroke-width="1.0" />
<line x1="294.5" y1="403.5" x2="294.5" y2="406.9" stroke="#000" stroke-width="1.0" />
<line x1="318.6" y1="403.5" x2="318.6" y2="406.9" stroke="#000" stroke-width="1.0" />
<text transform="translate(198.40,416.80) scale(1,1.06)" font-size="8.4" text-anchor="middle" font-weight="normal" font-style="normal" >0</text>
<text transform="translate(247.20,416.80) scale(1,1.06)" font-size="8.4" text-anchor="middle" font-weight="normal" font-style="normal" >10<tspan font-size="5.8" dy="-3.2">7</tspan></text>
<text transform="translate(296.60,416.80) scale(1,1.06)" font-size="8.4" text-anchor="middle" font-weight="normal" font-style="normal" >2 × 10<tspan font-size="5.8" dy="-3.2">7</tspan></text>
<text transform="translate(257.70,431.60) scale(1,1.06)" font-size="8.9" text-anchor="middle" font-weight="normal" font-style="normal" >Cell density</text>
<text transform="translate(170.8,317.8) rotate(-90)" font-size="9.0" text-anchor="middle">Accuracy of orientation (κ)</text>
<line x1="193.5" y1="397.5" x2="323.4" y2="397.5" stroke="#000" stroke-width="1.1" stroke-dasharray="1.3,0.9"/>
<clipPath id="ci"><rect x="193.5" y="232.7" width="129.89999999999998" height="170.8"/></clipPath>
<g clip-path="url(#ci)">
<polyline points="203.4,304.9 208.8,248.5 219.0,330.9 239.9,304.4 260.5,373.7 281.2,378.4 302.1,392.3" fill="none" stroke="#000" stroke-width="1.15" stroke-linejoin="round" stroke-linecap="round" />
<polyline points="203.0,371.8 207.9,378.5 217.3,389.8 236.0,373.0 255.0,377.7 273.8,383.6 292.9,384.1" fill="none" stroke="#000" stroke-width="1.15" stroke-linejoin="round" stroke-linecap="round" />
<rect x="201.60" y="303.10" width="3.6" height="3.6" fill="#999" stroke="#000" stroke-width="0.9"/>
<rect x="207.00" y="246.70" width="3.6" height="3.6" fill="#999" stroke="#000" stroke-width="0.9"/>
<rect x="217.20" y="329.10" width="3.6" height="3.6" fill="#999" stroke="#000" stroke-width="0.9"/>
<rect x="238.10" y="302.60" width="3.6" height="3.6" fill="#999" stroke="#000" stroke-width="0.9"/>
<rect x="258.70" y="371.90" width="3.6" height="3.6" fill="#999" stroke="#000" stroke-width="0.9"/>
<rect x="279.40" y="376.60" width="3.6" height="3.6" fill="#999" stroke="#000" stroke-width="0.9"/>
<rect x="300.30" y="390.50" width="3.6" height="3.6" fill="#999" stroke="#000" stroke-width="0.9"/>
<line x1="203.4" y1="276.9" x2="203.4" y2="329.2" stroke="#333" stroke-width="1.2" />
<line x1="208.8" y1="225.0" x2="208.8" y2="286.9" stroke="#333" stroke-width="1.2" />
<line x1="219.0" y1="302.6" x2="219.0" y2="358.7" stroke="#333" stroke-width="1.2" />
<line x1="239.9" y1="268.0" x2="239.9" y2="339.6" stroke="#333" stroke-width="1.2" />
<line x1="260.5" y1="364.6" x2="260.5" y2="381.3" stroke="#333" stroke-width="1.2" />
<line x1="281.2" y1="372.0" x2="281.2" y2="384.1" stroke="#333" stroke-width="1.2" />
<line x1="203.0" y1="362.9" x2="203.0" y2="379.9" stroke="#333" stroke-width="1.2" />
<line x1="207.9" y1="371.6" x2="207.9" y2="384.3" stroke="#333" stroke-width="1.2" />
<line x1="236.0" y1="361.7" x2="236.0" y2="381.7" stroke="#333" stroke-width="1.2" />
<line x1="255.0" y1="369.0" x2="255.0" y2="384.6" stroke="#333" stroke-width="1.2" />
<line x1="292.9" y1="379.1" x2="292.9" y2="388.3" stroke="#333" stroke-width="1.2" />
<circle cx="203.00" cy="371.80" r="2.5" fill="#000"/>
<circle cx="207.90" cy="378.50" r="2.5" fill="#000"/>
<circle cx="217.30" cy="389.80" r="2.5" fill="#000"/>
<circle cx="236.00" cy="373.00" r="2.5" fill="#000"/>
<circle cx="255.00" cy="377.70" r="2.5" fill="#000"/>
<circle cx="273.80" cy="383.60" r="2.5" fill="#000"/>
<circle cx="292.90" cy="384.10" r="2.5" fill="#000"/>
</g>
<text transform="translate(354.10,222.00) scale(1,1.06)" font-size="16.7" text-anchor="start" font-weight="bold" font-style="normal" >(c)</text>
<rect x="397.8" y="226.7" width="267.7" height="352.0" fill="none" stroke="#333" stroke-width="1.3"/>
<line x1="392.3" y1="550.1" x2="397.8" y2="550.1" stroke="#000" stroke-width="1.1" />
<text transform="translate(389.20,558.60) scale(1,1.06)" font-size="13.4" text-anchor="end" font-weight="normal" font-style="normal" >0</text>
<line x1="392.3" y1="472.5" x2="397.8" y2="472.5" stroke="#000" stroke-width="1.1" />
<text transform="translate(389.20,479.90) scale(1,1.06)" font-size="13.4" text-anchor="end" font-weight="normal" font-style="normal" >10</text>
<line x1="392.3" y1="394.9" x2="397.8" y2="394.9" stroke="#000" stroke-width="1.1" />
<text transform="translate(389.20,401.20) scale(1,1.06)" font-size="13.4" text-anchor="end" font-weight="normal" font-style="normal" >20</text>
<line x1="392.3" y1="317.3" x2="397.8" y2="317.3" stroke="#000" stroke-width="1.1" />
<text transform="translate(389.20,322.50) scale(1,1.06)" font-size="13.4" text-anchor="end" font-weight="normal" font-style="normal" >30</text>
<line x1="392.3" y1="239.7" x2="397.8" y2="239.7" stroke="#000" stroke-width="1.1" />
<text transform="translate(389.20,243.80) scale(1,1.06)" font-size="13.4" text-anchor="end" font-weight="normal" font-style="normal" >40</text>
<line x1="407.5" y1="578.7" x2="407.5" y2="584.3" stroke="#000" stroke-width="1.1" />
<text transform="translate(408.20,599.00) scale(1,1.06)" font-size="13.4" text-anchor="middle" font-weight="normal" font-style="normal" >0</text>
<line x1="469.5" y1="578.7" x2="469.5" y2="584.3" stroke="#000" stroke-width="1.1" />
<text transform="translate(470.20,599.00) scale(1,1.06)" font-size="13.4" text-anchor="middle" font-weight="normal" font-style="normal" >2</text>
<line x1="531.5" y1="578.7" x2="531.5" y2="584.3" stroke="#000" stroke-width="1.1" />
<text transform="translate(532.20,599.00) scale(1,1.06)" font-size="13.4" text-anchor="middle" font-weight="normal" font-style="normal" >4</text>
<line x1="593.5" y1="578.7" x2="593.5" y2="584.3" stroke="#000" stroke-width="1.1" />
<text transform="translate(594.20,599.00) scale(1,1.06)" font-size="13.4" text-anchor="middle" font-weight="normal" font-style="normal" >6</text>
<line x1="655.5" y1="578.7" x2="655.5" y2="584.3" stroke="#000" stroke-width="1.1" />
<text transform="translate(656.20,599.00) scale(1,1.06)" font-size="13.4" text-anchor="middle" font-weight="normal" font-style="normal" >8</text>
<text transform="translate(538.70,617.20) scale(1,1.06)" font-size="13.7" text-anchor="middle" font-weight="normal" font-style="normal" >Temperature (arbitrary units)</text>
<text transform="translate(363.4,395.3) rotate(-90)" font-size="13.8" text-anchor="middle">Accuracy of orientation (κ)</text>
<line x1="397.8" y1="550.2" x2="665.5" y2="550.2" stroke="#2a2a2a" stroke-width="1.1" stroke-dasharray="2.9,1.7"/>
<text transform="translate(592.80,251.40) scale(1,1.06)" font-size="13.2" text-anchor="start" font-weight="bold" font-style="normal" >AX3</text>
<rect x="639.90" y="245.20" width="6.6" height="6.6" fill="#000"/>
<text transform="translate(591.90,278.00) scale(1,1.06)" font-size="13.2" text-anchor="start" font-weight="bold" font-style="italic" >gefE</text>
<rect x="623.00" y="270.75" width="4.80" height="1.1" fill="#0a0a0a"/>
<circle cx="643.30" cy="274.10" r="4.3" fill="#000"/>
<text transform="translate(592.40,303.30) scale(1,1.06)" font-size="13.2" text-anchor="start" font-weight="bold" font-style="italic" >gefG</text>
<rect x="624.30" y="296.05" width="5.20" height="1.1" fill="#0a0a0a"/>
<polygon points="640.00,298.20 646.40,301.60 640.00,305.00" fill="#fff" stroke="#000" stroke-width="1.0" stroke-linejoin="miter"/>
<text transform="translate(590.80,332.60) scale(1,1.06)" font-size="13.2" text-anchor="start" font-weight="bold" font-style="italic" >gefL</text>
<rect x="621.30" y="325.35" width="4.50" height="1.1" fill="#0a0a0a"/>
<rect x="640.10" y="326.70" width="6.2" height="6.2" fill="#fff" stroke="#000" stroke-width="1.0"/>
<line x1="531.6" y1="306.8" x2="531.6" y2="454.1" stroke="#000" stroke-width="1.0" />
<line x1="562.2" y1="377.8" x2="562.2" y2="475.4" stroke="#000" stroke-width="1.0" />
<line x1="593.7" y1="439.4" x2="593.7" y2="501.3" stroke="#000" stroke-width="1.0" />
<line x1="624.7" y1="458.7" x2="624.7" y2="509.5" stroke="#000" stroke-width="1.0" />
<line x1="655.6" y1="511.8" x2="655.6" y2="535.0" stroke="#000" stroke-width="1.0" />
<line x1="500.6" y1="475.7" x2="500.6" y2="511.8" stroke="#000" stroke-width="1.0" />
<line x1="531.3" y1="515.1" x2="531.3" y2="529.5" stroke="#000" stroke-width="1.0" />
<line x1="562.3" y1="491.2" x2="562.3" y2="518.3" stroke="#000" stroke-width="1.0" />
<line x1="500.6" y1="529.5" x2="500.6" y2="537.0" stroke="#000" stroke-width="1.0" />
<line x1="531.5" y1="531.7" x2="531.5" y2="541.6" stroke="#000" stroke-width="1.0" />
<line x1="562.3" y1="529.4" x2="562.3" y2="539.3" stroke="#000" stroke-width="1.0" />
<line x1="624.3" y1="533.1" x2="624.3" y2="541.0" stroke="#000" stroke-width="1.0" />
<line x1="438.4" y1="539.5" x2="438.4" y2="547.0" stroke="#000" stroke-width="1.0" />
<line x1="469.5" y1="539.0" x2="469.5" y2="546.0" stroke="#000" stroke-width="1.0" />
<polyline points="438.5,543.4 469.5,542.6 500.5,533.5 531.5,536.1 562.5,534.3 593.5,535.0 624.5,537.5 655.5,543.0" fill="none" stroke="#000" stroke-width="1.0" stroke-linejoin="round" stroke-linecap="round" />
<rect x="435.40" y="540.30" width="6.2" height="6.2" fill="#fff" stroke="#000" stroke-width="1.0"/>
<rect x="466.40" y="539.50" width="6.2" height="6.2" fill="#fff" stroke="#000" stroke-width="1.0"/>
<rect x="497.40" y="530.40" width="6.2" height="6.2" fill="#fff" stroke="#000" stroke-width="1.0"/>
<rect x="528.40" y="533.00" width="6.2" height="6.2" fill="#fff" stroke="#000" stroke-width="1.0"/>
<rect x="559.40" y="531.20" width="6.2" height="6.2" fill="#fff" stroke="#000" stroke-width="1.0"/>
<rect x="590.40" y="531.90" width="6.2" height="6.2" fill="#fff" stroke="#000" stroke-width="1.0"/>
<rect x="621.40" y="534.40" width="6.2" height="6.2" fill="#fff" stroke="#000" stroke-width="1.0"/>
<rect x="652.40" y="539.90" width="6.2" height="6.2" fill="#fff" stroke="#000" stroke-width="1.0"/>
<polyline points="438.5,545.2 469.5,546.0 500.5,543.9 531.5,404.0 562.5,422.1 593.5,470.8 624.5,483.6 655.5,523.5" fill="none" stroke="#000" stroke-width="1.0" stroke-linejoin="round" stroke-linecap="round" />
<rect x="435.20" y="541.90" width="6.6" height="6.6" fill="#000"/>
<rect x="466.20" y="542.70" width="6.6" height="6.6" fill="#000"/>
<rect x="497.20" y="540.60" width="6.6" height="6.6" fill="#000"/>
<rect x="528.20" y="400.70" width="6.6" height="6.6" fill="#000"/>
<rect x="559.20" y="418.80" width="6.6" height="6.6" fill="#000"/>
<rect x="590.20" y="467.50" width="6.6" height="6.6" fill="#000"/>
<rect x="621.20" y="480.30" width="6.6" height="6.6" fill="#000"/>
<rect x="652.20" y="520.20" width="6.6" height="6.6" fill="#000"/>
<polyline points="438.5,555.0 469.5,553.9 500.5,496.3 531.5,365.5 562.5,447.8 593.5,484.5 624.5,485.9 655.5,533.7" fill="none" stroke="#000" stroke-width="1.0" stroke-linejoin="round" stroke-linecap="round" />
<polygon points="436.20,551.70 443.00,555.00 436.20,558.30" fill="#fff" stroke="#000" stroke-width="1.0" stroke-linejoin="miter"/>
<polygon points="467.20,550.60 474.00,553.90 467.20,557.20" fill="#fff" stroke="#000" stroke-width="1.0" stroke-linejoin="miter"/>
<polygon points="498.20,493.00 505.00,496.30 498.20,499.60" fill="#fff" stroke="#000" stroke-width="1.0" stroke-linejoin="miter"/>
<polygon points="529.20,362.20 536.00,365.50 529.20,368.80" fill="#fff" stroke="#000" stroke-width="1.0" stroke-linejoin="miter"/>
<polygon points="560.20,444.50 567.00,447.80 560.20,451.10" fill="#fff" stroke="#000" stroke-width="1.0" stroke-linejoin="miter"/>
<polygon points="591.20,481.20 598.00,484.50 591.20,487.80" fill="#fff" stroke="#000" stroke-width="1.0" stroke-linejoin="miter"/>
<polygon points="622.20,482.60 629.00,485.90 622.20,489.20" fill="#fff" stroke="#000" stroke-width="1.0" stroke-linejoin="miter"/>
<polygon points="653.20,530.40 660.00,533.70 653.20,537.00" fill="#fff" stroke="#000" stroke-width="1.0" stroke-linejoin="miter"/>
<polyline points="438.5,548.9 469.5,547.0 500.5,544.5 531.5,522.4 562.5,506.2 593.5,535.6 624.5,538.9 655.5,546.1" fill="none" stroke="#000" stroke-width="1.0" stroke-linejoin="round" stroke-linecap="round" />
<circle cx="438.50" cy="548.90" r="4.4" fill="#000"/>
<circle cx="469.50" cy="547.00" r="4.4" fill="#000"/>
<circle cx="500.50" cy="544.50" r="4.4" fill="#000"/>
<circle cx="531.50" cy="522.40" r="4.4" fill="#000"/>
<circle cx="562.50" cy="506.20" r="4.4" fill="#000"/>
<circle cx="593.50" cy="535.60" r="4.4" fill="#000"/>
<circle cx="624.50" cy="538.90" r="4.4" fill="#000"/>
<circle cx="655.50" cy="546.10" r="4.4" fill="#000"/>
</svg></body></html>
